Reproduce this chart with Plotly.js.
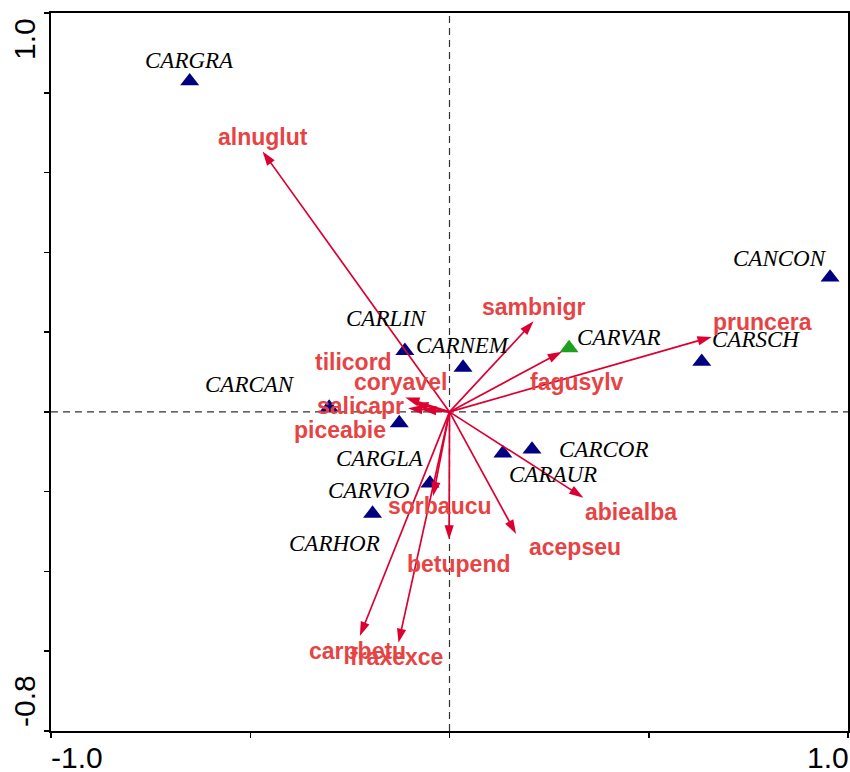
<!DOCTYPE html>
<html><head><meta charset="utf-8">
<script src="https://cdn.plot.ly/plotly-3.0.1.min.js"></script>
<style>html,body{margin:0;padding:0;background:#fff}</style>
</head><body>
<div id="chart" style="width:850px;height:772px"></div>
<script>
// ---- data ----
const sampleNames = ['CARGRA','CANCON','CARSCH','CARVAR','CARNEM','CARLIN','CARCAN','CARGLA','CARAUR','CARCOR','CARVIO','CARHOR'];
const sampleX     = [-0.652, 0.955, 0.633, 0.300, 0.034, -0.112, -0.302, -0.126, 0.134, 0.207, -0.049, -0.193];
const sampleY     = [ 0.829, 0.337, 0.126, 0.160, 0.111,  0.153,  0.011, -0.028, -0.104, -0.094, -0.179, -0.255];
const highlightedSample = 'CARVAR';

const speciesNames = ['alnuglut','sambnigr','pruncera','fagusylv','tilicord','coryavel','salicapr','piceabie','sorbaucu','betupend','acepseu','abiealba','carpbetu','fraxexce'];
const speciesX     = [-0.469, 0.211, 0.658, 0.282, -0.111, -0.089, -0.104, -0.069, -0.041, -0.001, 0.167, 0.336, -0.225, -0.128];
const speciesY     = [ 0.653, 0.227, 0.188, 0.151,  0.036,  0.022,  0.009,  0.006, -0.211, -0.320, -0.306, -0.215, -0.562, -0.579];

const xTickVals = [-1, -0.5, 0, 0.5, 1];
const yTickVals = [-0.8, -0.6, -0.4, -0.2, 0, 0.2, 0.4, 0.6, 0.8, 1.0];
const xLabelVals = [-1, 1];
const xLabelText = ['-1.0', '1.0'];
const yLabelVals = [1.0, -0.8];
const yLabelText = ['1.0', '-0.8'];

// ---- styling (label offsets in pixels) ----
const sampleLabelShift = {
  CARGRA:[0,21], CANCON:[-50,19], CARSCH:[54,22], CARVAR:[49,11], CARNEM:[0,22], CARLIN:[-18,32],
  CARCAN:[-79,23], CARGLA:[-19,-35], CARAUR:[50,-21], CARCOR:[72,0], CARVIO:[-61,-7], CARHOR:[-38,-30]
};
const speciesLabelShift = {
  alnuglut:[0,14], sambnigr:[0,14], pruncera:[51,15], fagusylv:[15,-30], tilicord:[-52,36], coryavel:[-14,21],
  salicapr:[-48,2], piceabie:[-82,-20], sorbaucu:[7,-10], betupend:[10,-24], acepseu:[59,-13], abiealba:[48,-14],
  carpbetu:[-2,-15], fraxexce:[-2,-14]
};
const navy = '#000080', green = '#1ea01e', arrowRed = '#dc0030', textRed = '#e64444';
const serif = 'Liberation Serif, Times New Roman, serif';
const sans = 'Liberation Sans, Arial, sans-serif';

const traces = [];
traces.push({
  type:'scatter', mode:'markers', x:sampleX, y:sampleY, text:sampleNames, hoverinfo:'text',
  marker:{symbol:'triangle-up', size:16.5, color:sampleNames.map(n => n === highlightedSample ? green : navy), line:{width:0}},
  showlegend:false
});
speciesNames.forEach((n, i) => {
  traces.push({
    type:'scatter', mode:'lines+markers', x:[0, speciesX[i]], y:[0, speciesY[i]], name:n, hoverinfo:'name',
    line:{color:arrowRed, width:1.7},
    marker:{symbol:'arrow', angleref:'previous', size:[0, 15], opacity:[0, 1], color:arrowRed, line:{width:0}},
    showlegend:false
  });
});

const annotations = [];
sampleNames.forEach((n, i) => {
  const s = sampleLabelShift[n];
  annotations.push({x:sampleX[i], y:sampleY[i], xref:'x', yref:'y', text:n, showarrow:false,
    xshift:s[0], yshift:s[1], xanchor:'center', yanchor:'middle',
    font:{family:serif, size:23, color:'#000', style:'italic'}});
});
speciesNames.forEach((n, i) => {
  const s = speciesLabelShift[n];
  annotations.push({x:speciesX[i], y:speciesY[i], xref:'x', yref:'y', text:n, showarrow:false,
    xshift:s[0], yshift:s[1], xanchor:'center', yanchor:'middle',
    font:{family:sans, size:23, color:textRed, weight:'bold'}});
});
xLabelVals.forEach((v, i) => {
  annotations.push({x:v, y:0, xref:'x', yref:'paper', text:xLabelText[i], showarrow:false,
    xanchor: v < 0 ? 'left' : 'right', yanchor:'top', yshift:-8, xshift: v < 0 ? -2 : 3,
    font:{family:sans, size:30, color:'#000'}});
});
yLabelVals.forEach((v, i) => {
  annotations.push({x:0, y:v, xref:'paper', yref:'y', text:yLabelText[i], showarrow:false, textangle:-90,
    xanchor:'center', xshift:-27, yanchor: v > 0 ? 'top' : 'bottom', yshift: v > 0 ? -3 : 2,
    font:{family:sans, size:30, color:'#000'}});
});

const axBase = {showgrid:false, zeroline:false, tickmode:'array', showticklabels:false, fixedrange:true, tickcolor:'#000', tickwidth:1.5};
const layout = {
  width:850, height:772, margin:{l:51, r:2, t:13, b:41},
  paper_bgcolor:'#fff', plot_bgcolor:'#fff', showlegend:false, hovermode:'closest',
  xaxis:Object.assign({}, axBase, {range:[-1, 1], tickvals:xTickVals, ticks:'outside', ticklen:5,
    showline:true, mirror:true, linecolor:'#000', linewidth:2}),
  yaxis:Object.assign({}, axBase, {range:[-0.8, 1.0], tickvals:yTickVals, ticks:'outside', ticklen:5,
    showline:true, mirror:true, linecolor:'#000', linewidth:2}),
  xaxis2:Object.assign({}, axBase, {overlaying:'x', anchor:'y', side:'bottom', range:[-1, 1], tickvals:xTickVals, ticks:'inside', ticklen:4, showline:false}),
  yaxis2:Object.assign({}, axBase, {overlaying:'y', anchor:'x', side:'left', range:[-0.8, 1.0], tickvals:yTickVals, ticks:'inside', ticklen:4, showline:false}),
  shapes:[
    {type:'line', xref:'x', yref:'paper', x0:0, x1:0, y0:0, y1:1, line:{color:'#333', width:1.2, dash:'7px,5px'}, layer:'below'},
    {type:'line', xref:'paper', yref:'y', x0:0, x1:1, y0:0, y1:0, line:{color:'#333', width:1.2, dash:'7px,5px'}, layer:'below'}
  ],
  annotations:annotations
};
Plotly.newPlot('chart', traces, layout, {displayModeBar:false, staticPlot:true});
</script>
</body></html>
